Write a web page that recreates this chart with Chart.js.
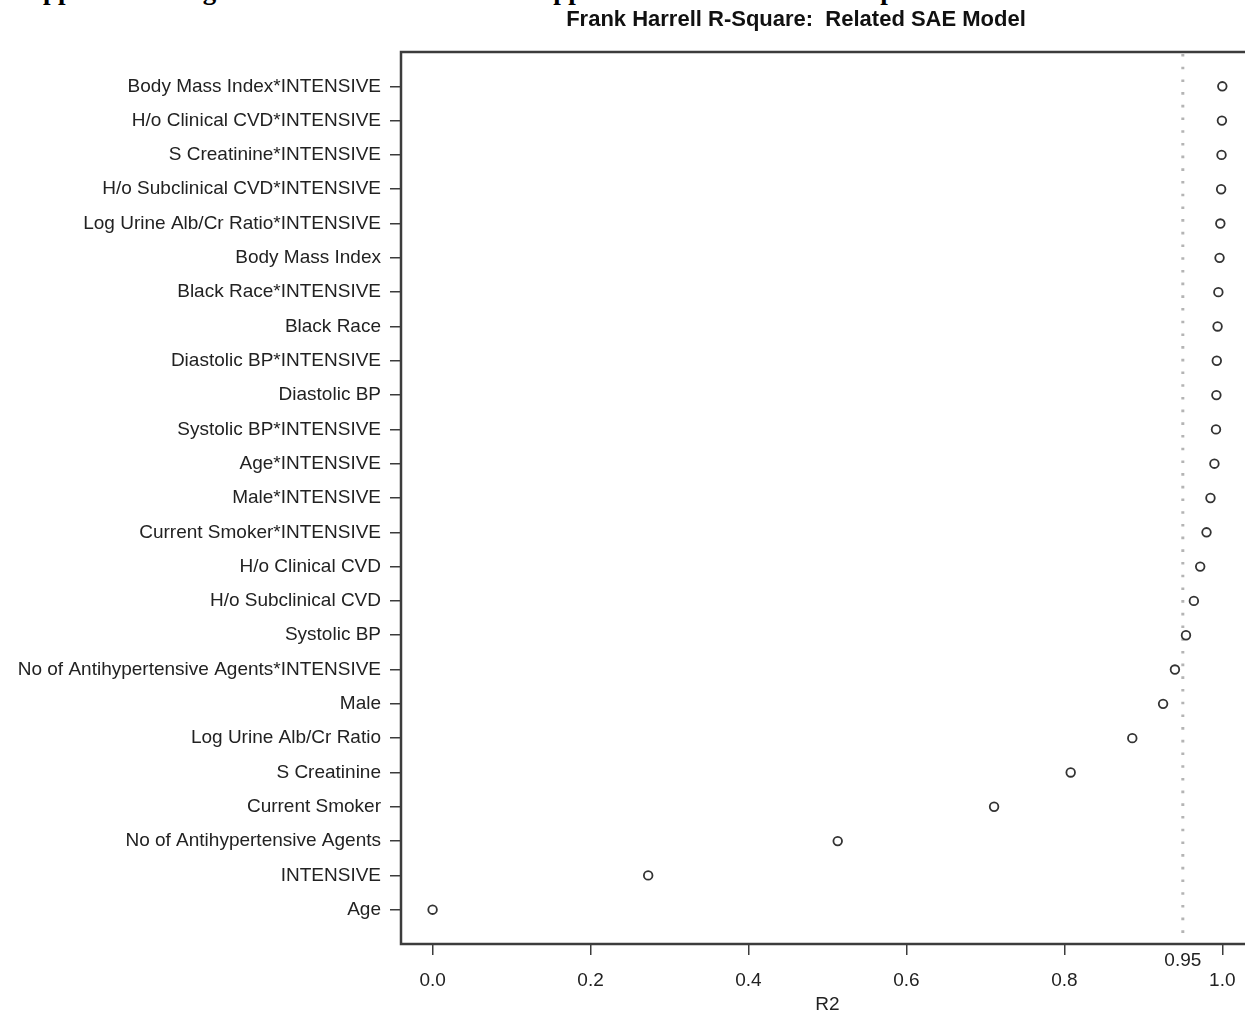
<!DOCTYPE html>
<html>
<head>
<meta charset="utf-8">
<script src="https://cdn.jsdelivr.net/npm/chart.js@4.4.1/dist/chart.umd.min.js"></script>
<style>
  html, body { margin: 0; padding: 0; background: #fff; overflow: hidden; width: 1245px; height: 1014px; }
  #page { position: relative; width: 1245px; height: 1014px; overflow: hidden; }
  #header { position: absolute; left: 13px; top: -23px; font: bold 27px "Liberation Serif", "Times New Roman", serif; line-height: 27px; white-space: pre; color: #000; }
  #title { position: absolute; left: 796px; top: 8px; transform: translateX(-50%); font: bold 22px "Liberation Sans", Arial, sans-serif; line-height: 22px; white-space: pre; color: #111; }
  #chart { position: absolute; left: 0; top: 0; }
</style>
</head>
<body>
<div id="page">
  <div id="header">Supplemental Figure 4. Related SAE Model Supplemental Interaction Comparison</div>
  <canvas id="chart" width="1260" height="1014"></canvas>
  <div id="title">Frank Harrell R-Square:  Related SAE Model</div>
</div>
<script>
// Model terms, listed from the top row of the dot chart downwards
const terms = [
  "Body Mass Index*INTENSIVE",
  "H/o Clinical CVD*INTENSIVE",
  "S Creatinine*INTENSIVE",
  "H/o Subclinical CVD*INTENSIVE",
  "Log Urine Alb/Cr Ratio*INTENSIVE",
  "Body Mass Index",
  "Black Race*INTENSIVE",
  "Black Race",
  "Diastolic BP*INTENSIVE",
  "Diastolic BP",
  "Systolic BP*INTENSIVE",
  "Age*INTENSIVE",
  "Male*INTENSIVE",
  "Current Smoker*INTENSIVE",
  "H/o Clinical CVD",
  "H/o Subclinical CVD",
  "Systolic BP",
  "No of Antihypertensive Agents*INTENSIVE",
  "Male",
  "Log Urine Alb/Cr Ratio",
  "S Creatinine",
  "Current Smoker",
  "No of Antihypertensive Agents",
  "INTENSIVE",
  "Age"
];

// Cumulative R-square share for each term (same order as above)
const r2 = [
  1.000, 0.9995, 0.999, 0.9985, 0.9975,
  0.9965, 0.995, 0.994, 0.993, 0.9925,
  0.992, 0.990, 0.985, 0.980, 0.972,
  0.964, 0.954, 0.940, 0.925, 0.886,
  0.808, 0.711, 0.513, 0.273, 0.000
];

// Axis ticks and the reference level
const xTicks = [0.0, 0.2, 0.4, 0.6, 0.8, 1.0];
const referenceR2 = 0.95;

const n = terms.length;
const points = r2.map((v, i) => ({ x: v, y: n - i }));

const FONT = '"Liberation Sans", Arial, Helvetica, sans-serif';
const INK = '#222';
const AXIS = '#3c3c3c';

const framePlugin = {
  id: 'frame',
  beforeDatasetsDraw(chart) {
    const { ctx, chartArea: a, scales: { x } } = chart;
    const px = x.getPixelForValue(referenceR2);
    ctx.save();
    ctx.strokeStyle = '#b4b4b4';
    ctx.lineWidth = 3;
    ctx.setLineDash([2.6, 10.1]);
    ctx.beginPath();
    ctx.moveTo(px, a.top + 2);
    ctx.lineTo(px, a.bottom);
    ctx.stroke();
    ctx.restore();
  },
  afterDraw(chart) {
    const { ctx, chartArea: a, scales: { x } } = chart;
    ctx.save();
    ctx.strokeStyle = AXIS;
    ctx.lineWidth = 2.5;
    ctx.strokeRect(a.left, a.top, a.right - a.left, a.bottom - a.top);
    ctx.fillStyle = INK;
    ctx.font = '19px ' + FONT;
    ctx.textAlign = 'center';
    ctx.textBaseline = 'middle';
    ctx.fillText(referenceR2.toFixed(2), x.getPixelForValue(referenceR2), a.bottom + 17);
    ctx.restore();
  }
};

new Chart(document.getElementById('chart'), {
  type: 'scatter',
  data: {
    datasets: [{
      data: points,
      pointStyle: 'circle',
      pointRadius: 4.3,
      pointBorderWidth: 1.8,
      borderColor: '#333',
      backgroundColor: 'rgba(255,255,255,0)',
      showLine: false
    }]
  },
  options: {
    responsive: false,
    animation: false,
    events: [],
    layout: { padding: { left: 0, top: 52, right: 4.9, bottom: 0 } },
    plugins: { legend: { display: false }, tooltip: { enabled: false }, title: { display: false } },
    scales: {
      x: {
        type: 'linear',
        min: -0.04,
        max: 1.04,
        afterBuildTicks(s) { s.ticks = xTicks.map(v => ({ value: v })); },
        afterFit(s) { s.height = 70; },
        border: { display: false },
        grid: { display: true, drawOnChartArea: false, drawTicks: true, tickLength: 11, color: AXIS, lineWidth: 1.5 },
        ticks: { autoSkip: false, maxRotation: 0, padding: 14, color: INK, font: { family: FONT, size: 19 },
                 callback: v => Number(v).toFixed(1) },
        title: { display: true, text: 'R2', color: INK, font: { family: FONT, size: 19, lineHeight: 1 }, padding: { top: 0, bottom: 0 } }
      },
      y: {
        type: 'linear',
        min: 0,
        max: n + 1,
        afterBuildTicks(s) { s.ticks = terms.map((_, i) => ({ value: n - i })); },
        afterFit(s) { s.width = 401; },
        border: { display: false },
        grid: { display: true, drawOnChartArea: false, drawTicks: true, tickLength: 11, color: AXIS, lineWidth: 1.5 },
        ticks: { autoSkip: false, padding: 9, color: INK, font: { family: FONT, size: 19 },
                 callback: v => terms[n - v] }
      }
    }
  },
  plugins: [framePlugin]
});
</script>
</body>
</html>
